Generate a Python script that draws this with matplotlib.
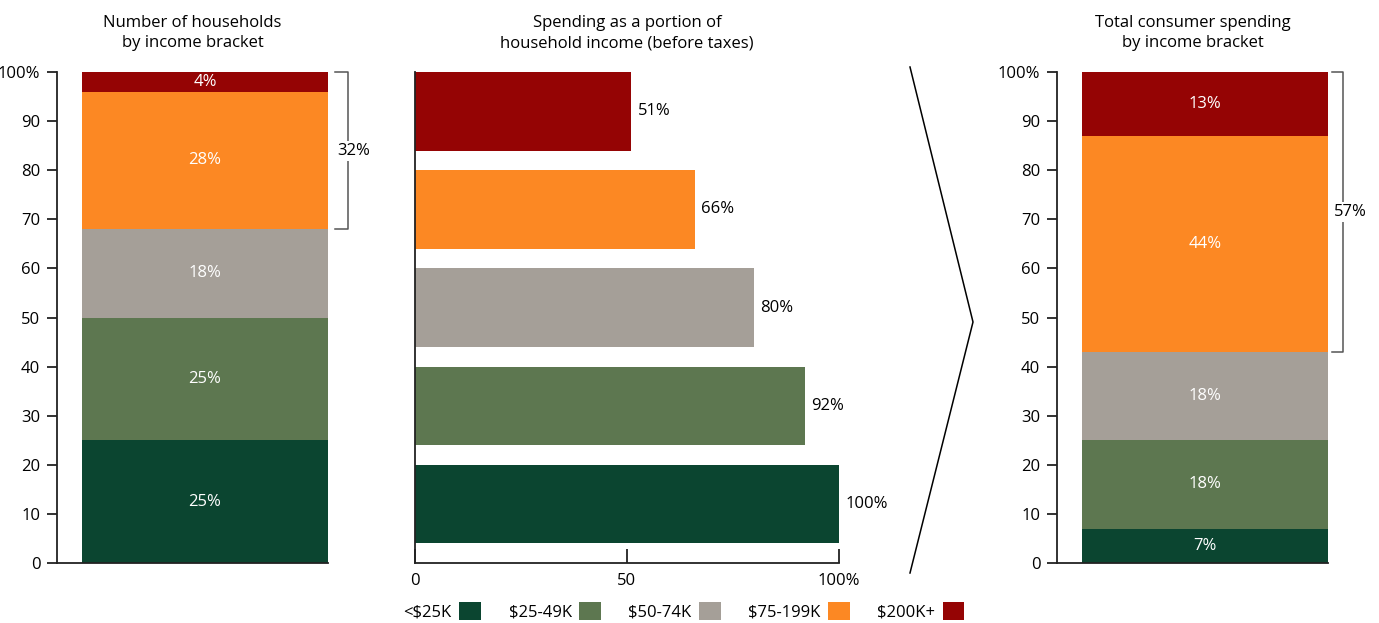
import numpy as np
import matplotlib.pyplot as plt
from matplotlib.lines import Line2D
from matplotlib.patches import Patch
import matplotlib.transforms as mtrans

plt.rcParams['font.family'] = ['Open Sans', 'DejaVu Sans']
plt.rcParams['font.size'] = 12

brackets = ['<$25K', '$25-49K', '$50-74K', '$75-199K', '$200K+']
colors = ['#0b4530', '#5d7750', '#a59f98', '#fc8823', '#950404']

households = [25, 25, 18, 28, 4]      # % of households
spend_share = [100, 92, 80, 66, 51]   # spending as % of income
consumer = [7, 18, 18, 44, 13]        # % of total consumer spending

titles = ['Number of households\nby income bracket',
          'Spending as a portion of\nhousehold income (before taxes)',
          'Total consumer spending\nby income bracket']

W, H = 1379, 623
fig = plt.figure(figsize=(W / 100, H / 100), dpi=100)

bot = 1 - 563 / H
hgt = (563 - 72) / H
ax_l = fig.add_axes([57 / W, bot, 271 / W, hgt])
ax_m = fig.add_axes([415 / W, bot, 424 / W, hgt])
ax_r = fig.add_axes([1057 / W, bot, 271 / W, hgt])


def stacked(ax, vals, top_n, title, brk):
    cum = np.concatenate([[0], np.cumsum(vals)])
    for i, v in enumerate(vals):
        ax.bar(0, v, bottom=cum[i], width=1, align='edge', color=colors[i])
        ax.text(0.5, cum[i] + v / 2, f'{v}%', ha='center', va='center',
                color='white')
    ax.set_xlim(-0.102, 1.0)
    ax.set_ylim(0, 100)
    ax.set_yticks(np.arange(0, 101, 10))
    ax.set_yticklabels([str(t) if t < 100 else '100%' for t in range(0, 101, 10)])
    ax.set_xticks([])
    for s in ['top', 'right']:
        ax.spines[s].set_visible(False)
    for s in ['left', 'bottom']:
        ax.spines[s].set_linewidth(1.3)
        ax.spines[s].set_color('#222222')
    ax.tick_params(axis='y', length=7, width=1.3, color='#222222', pad=5)
    ax.set_title(title, pad=18, fontsize=12, linespacing=1.35)

    # bracket over the top brackets (offsets in px right of the bar)
    lo = cum[-1 - top_n]
    tr = mtrans.blended_transform_factory(ax.transAxes, ax.transData)
    x0, x1, xt = [1 + b / 271 for b in brk]
    ax.plot([x0, x1, x1, x0], [100, 100, lo, lo], color='#555555', lw=1.1,
            transform=tr, clip_on=False)
    share = sum(vals[-top_n:])
    ax.text(xt, (100 + lo) / 2, f'{share}%', ha='center', va='center',
            transform=tr, clip_on=False,
            bbox=dict(facecolor='white', edgecolor='none', pad=1.5))


stacked(ax_l, households, 2, titles[0], (7, 20, 26))
stacked(ax_r, consumer, 2, titles[2], (4, 15, 22))

# middle horizontal bars
ypos = np.arange(len(spend_share))
ax_m.barh(ypos, spend_share, height=0.8, color=colors)
for y, v in zip(ypos, spend_share):
    ax_m.text(v + 1.5, y, f'{v}%', ha='left', va='center')
ax_m.set_xlim(0, 100)
ax_m.set_ylim(-0.6, 4.4)
ax_m.set_yticks([])
ax_m.set_xticks([0, 50, 100])
ax_m.set_xticklabels(['0', '50', '100%'])
ax_m.tick_params(axis='x', direction='in', length=10, width=1.3,
                 color='#222222', pad=7)
for s in ['top', 'right']:
    ax_m.spines[s].set_visible(False)
for s in ['left', 'bottom']:
    ax_m.spines[s].set_linewidth(1.3)
    ax_m.spines[s].set_color('#222222')
ax_m.set_title(titles[1], pad=18, fontsize=12, linespacing=1.35)

# chevron between middle and right panels
fig.add_artist(Line2D([910 / W, 973 / W, 910 / W],
                      [1 - 67 / H, 1 - 322 / H, 1 - 573 / H],
                      color='black', lw=1.1))

handles = [Patch(facecolor=c) for c in colors]
fig.legend(handles, brackets, loc='center', bbox_to_anchor=(684 / W, 1 - 611 / H),
           ncol=5, frameon=False, markerfirst=False, handlelength=1.3,
           handleheight=1.3, handletextpad=0.45, columnspacing=1.65,
           borderpad=0.1)

fig.savefig('out.png', dpi=100)
